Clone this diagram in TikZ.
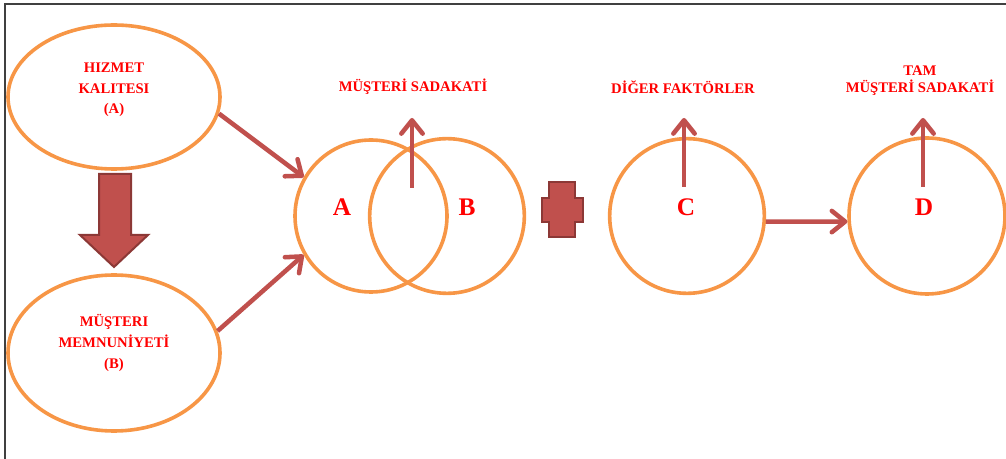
\documentclass[tikz,border=0pt]{standalone}
\usepackage{fontspec}
\setmainfont{Liberation Serif}
\usetikzlibrary{shapes.geometric,arrows.meta}
\definecolor{ringorange}{HTML}{F79646}
\definecolor{arrowred}{HTML}{C0504D}
\definecolor{arrowedge}{HTML}{8C3836}
\definecolor{framegray}{HTML}{404040}
\begin{document}
\begin{tikzpicture}[x=0.75pt,y=-0.75pt,
  ring/.style={draw=ringorange,line width=2.7pt,inner sep=0pt},
  oval/.style={ring,ellipse},
  disc/.style={ring,circle},
  flow/.style={draw=arrowred,line width=3.4pt,
    -{Straight Barb[length=10pt,width=16pt,line cap=round,line join=round]}},
  lbl/.style={text=red,font=\bfseries\fontsize{11}{15.5}\selectfont,align=center,inner sep=0pt},
  big/.style={text=red,font=\bfseries\fontsize{19}{22}\selectfont,inner sep=0pt},
  block/.style={fill=arrowred,draw=arrowedge,line width=1.5pt,line join=miter}]

\useasboundingbox (0,0) rectangle (1006,459);
% frame
\draw[framegray,line width=1.5pt] (5,459) -- (5,4) -- (1006,4);

% source ovals
\node[oval,minimum width=159pt,minimum height=108pt] (hiz) at (114,97) {};
\node[oval,minimum width=159pt,minimum height=117pt] (mem) at (114,353) {};
\node[lbl] (tHiz) at (114,90) {HIZMET\\KALITESI\\(A)};
\node[lbl] (tMem) at (114,343) {MÜŞTERI\\MEMNUNİYETİ\\(B)};

% block arrow between the ovals
\draw[block] (99,174) -- (131,174) -- (131,235) -- (148,235) -- (114,267)
  -- (80,235) -- (99,235) -- cycle;

% circles
\node[disc,minimum size=114pt] (cA) at (371,216) {};
\node[disc,minimum size=116pt] (cB) at (447,216) {};
\node[disc,minimum size=116pt] (cC) at (687,216) {};
\node[disc,minimum size=117pt] (cD) at (927,216) {};

\node[big] (lA) at (342,207) {A};
\node[big] (lB) at (467,207) {B};
\node[big] (lC) at (686,207) {C};
\node[big] (lD) at (924,207) {D};

% plus sign
\draw[block] (549,182) -- (575,182) -- (575,198) -- (583,198) -- (583,222)
  -- (575,222) -- (575,237) -- (549,237) -- (549,222) -- (542,222)
  -- (542,198) -- (549,198) -- cycle;

% titles
\node[lbl] (tSad) at (413,87) {MÜŞTERİ SADAKATİ};
\node[lbl] (tDig) at (683,87) {DİĞER FAKTÖRLER};
\node[lbl] (tTam) at (920,81) {TAM\\[-2.5pt]MÜŞTERİ SADAKATİ};

% connectors
\draw[flow] (hiz.-9) -- (cA.150);
\draw[flow] (mem.12) -- (cA.210);
\draw[flow] (cC.-4.5) -- (cD.184);

\coordinate (abFoot) at (412,188);
\coordinate (abTip) at (412,118);
\coordinate (cFoot) at (684,187);
\coordinate (cTip) at (684,118);
\coordinate (dFoot) at (923,187);
\coordinate (dTip) at (923,118);
\draw[flow] (abFoot) -- (abTip);
\draw[flow] (cFoot) -- (cTip);
\draw[flow] (dFoot) -- (dTip);
\end{tikzpicture}
\end{document}
